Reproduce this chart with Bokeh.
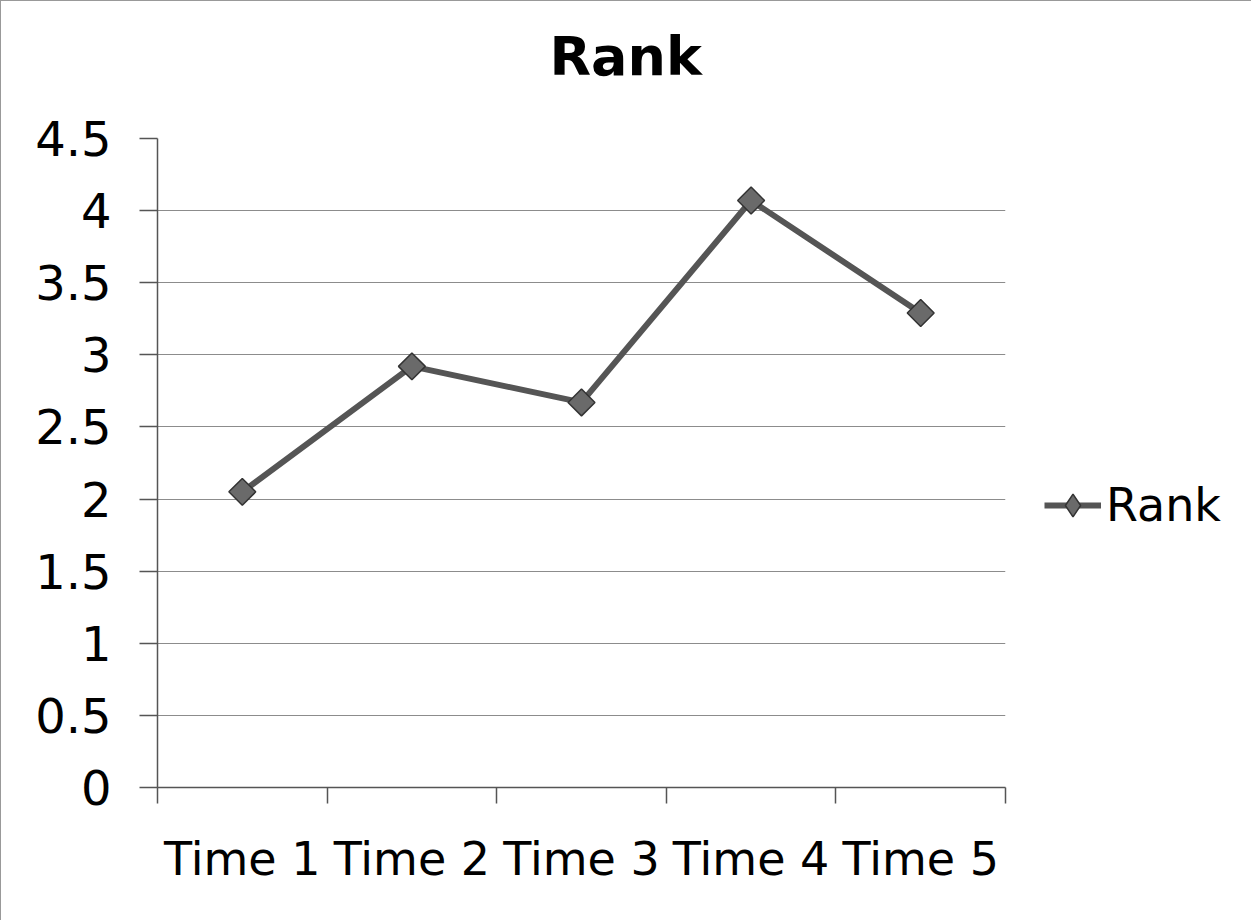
import math
from bokeh.plotting import figure
from bokeh.models import (FactorRange, Range1d, LinearAxis, CategoricalAxis, FixedTicker,
                          Legend, LegendItem, Title, ColumnDataSource)
from bokeh.embed import file_html
from bokeh.resources import INLINE

# ---- data ----
times = ["Time 1", "Time 2", "Time 3", "Time 4", "Time 5"]
rank = [2.05, 2.92, 2.67, 4.07, 3.29]
y_ticks = [0, 0.5, 1, 1.5, 2, 2.5, 3, 3.5, 4, 4.5]
y_tick_labels = ["0", "0.5", "1", "1.5", "2", "2.5", "3", "3.5", "4", "4.5"]
series_name = "Rank"
chart_title = "Rank"

FONT = "DejaVu Sans"

src = ColumnDataSource(dict(t=times, r=rank))

p = figure(frame_width=848, frame_height=649, output_backend="svg", toolbar_location=None,
           x_range=FactorRange(factors=times), y_range=Range1d(0, 4.5),
           x_axis_location=None, y_axis_location=None,
           min_border_left=156, min_border_right=247, min_border_top=137, min_border_bottom=134)
p.title_location = None
p.outline_line_color = None
p.background_fill_color = "white"
p.border_fill_color = "white"

# spacer between frame and title (nearest to frame), then the title above it
spacer = Title(text=" ", text_font_size="1px", standoff=48)
p.add_layout(spacer, "above")
t = Title(text=chart_title, align="left", text_font=FONT, text_font_size="54px",
          text_font_style="bold", text_color="black", offset=392, standoff=0)
p.add_layout(t, "above")

# y axis
yax = LinearAxis(ticker=FixedTicker(ticks=y_ticks),
                 major_label_overrides={v: s for v, s in zip(y_ticks, y_tick_labels)})
yax.axis_line_color = "#555555"
yax.axis_line_width = 1.5
yax.major_tick_line_color = "#555555"
yax.major_tick_line_width = 1.5
yax.major_tick_out = 18
yax.major_tick_in = 0
yax.minor_tick_line_color = None
yax.major_label_text_font = FONT
yax.major_label_text_font_size = "48px"
yax.major_label_text_color = "black"
yax.major_label_standoff = 28
p.add_layout(yax, "left")

# x tick-mark axis: ticks on the category boundaries (synthetic coordinates 0..n)
edges = list(range(len(times) + 1))
xt = LinearAxis(ticker=FixedTicker(ticks=edges),
                major_label_overrides={i: "" for i in edges})
xt.axis_line_color = "#555555"
xt.axis_line_width = 1.5
xt.major_tick_line_color = "#555555"
xt.major_tick_line_width = 1.5
xt.major_tick_out = 16
xt.major_tick_in = 0
xt.minor_tick_line_color = None
xt.major_label_text_font_size = "1px"
xt.major_label_standoff = 0
p.add_layout(xt, "below")

# x category label axis
xl = CategoricalAxis()
xl.axis_line_color = None
xl.major_tick_line_color = None
xl.major_tick_out = 0
xl.major_tick_in = 0
xl.major_label_text_font = FONT
xl.major_label_text_font_size = "46px"
xl.major_label_text_color = "black"
xl.major_label_standoff = 28
p.add_layout(xl, "below")

p.xgrid.visible = False
p.ygrid.ticker = FixedTicker(ticks=y_ticks)
p.ygrid.grid_line_color = "#8c8c8c"
p.ygrid.grid_line_width = 1

ln = p.line("t", "r", source=src, line_color="#555555", line_width=6)
# diamond used for the legend swatch; it lies fully under the rotated squares
dm = p.scatter("t", "r", source=src, marker="diamond", size=24,
               fill_color="#6a6a6a", line_color="#333333", line_width=1.5)
mk = p.scatter("t", "r", source=src, marker="square", size=19, angle=math.pi / 4,
               fill_color="#6a6a6a", line_color="#333333", line_width=1.5)

legend = Legend(items=[LegendItem(label=series_name, renderers=[ln, dm])],
                location=(39, 251), label_text_font=FONT, label_text_font_size="46px",
                label_text_color="black", glyph_width=57, glyph_height=62,
                label_standoff=5, padding=0, margin=0, border_line_color=None,
                background_fill_alpha=0)
p.add_layout(legend, "right")

p.styles = {"border": "1px solid #999999"}

open("out.html", "w").write(file_html(p, INLINE))
